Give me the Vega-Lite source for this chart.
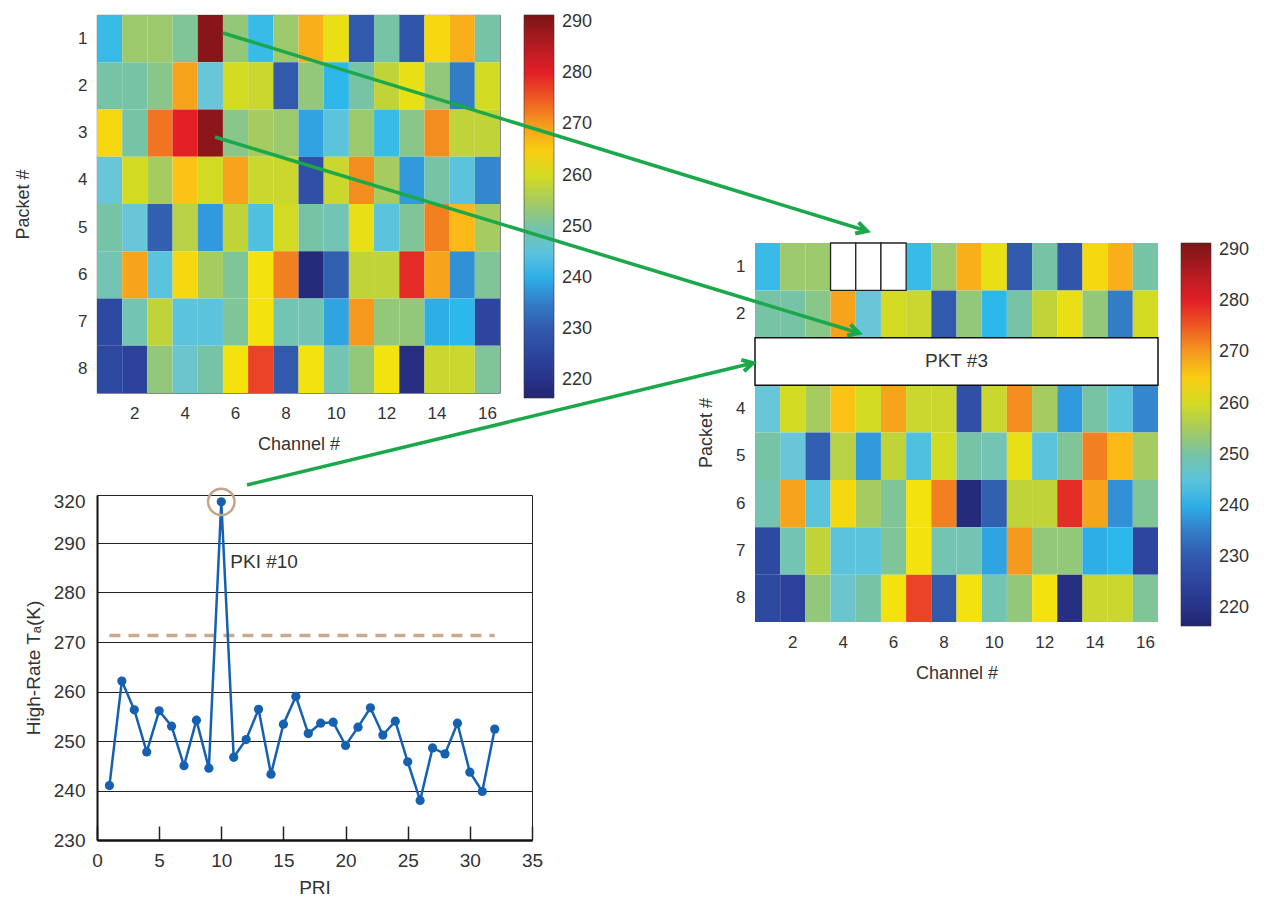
{
  "$schema": "https://vega.github.io/schema/vega-lite/v6.json",
  "background": "white",
  "padding": {"left": 14, "top": 14, "right": 5, "bottom": 5},
  "config": {
    "font": "Liberation Sans",
    "axis": {"labelColor": "#333", "titleColor": "#333", "titleFontWeight": "normal", "domainColor": "#333", "labelFont": "Liberation Sans", "titleFont": "Liberation Sans"},
    "legend": {"labelColor": "#333", "labelFont": "Liberation Sans"}
  },
  "datasets": {
    "cells": [
      {"packet":1,"ch":1,"T":242},{"packet":1,"ch":2,"T":254},{"packet":1,"ch":3,"T":254},{"packet":1,"ch":4,"T":251},{"packet":1,"ch":5,"T":290},{"packet":1,"ch":6,"T":253},{"packet":1,"ch":7,"T":242},{"packet":1,"ch":8,"T":254},{"packet":1,"ch":9,"T":268},{"packet":1,"ch":10,"T":262},{"packet":1,"ch":11,"T":230},{"packet":1,"ch":12,"T":250},{"packet":1,"ch":13,"T":229},{"packet":1,"ch":14,"T":264},{"packet":1,"ch":15,"T":268},{"packet":1,"ch":16,"T":250},
      {"packet":2,"ch":1,"T":250},{"packet":2,"ch":2,"T":250},{"packet":2,"ch":3,"T":252},{"packet":2,"ch":4,"T":269},{"packet":2,"ch":5,"T":246},{"packet":2,"ch":6,"T":260},{"packet":2,"ch":7,"T":259},{"packet":2,"ch":8,"T":230},{"packet":2,"ch":9,"T":253},{"packet":2,"ch":10,"T":241},{"packet":2,"ch":11,"T":250},{"packet":2,"ch":12,"T":258},{"packet":2,"ch":13,"T":262},{"packet":2,"ch":14,"T":253},{"packet":2,"ch":15,"T":235},{"packet":2,"ch":16,"T":260},
      {"packet":3,"ch":1,"T":264},{"packet":3,"ch":2,"T":250},{"packet":3,"ch":3,"T":273},{"packet":3,"ch":4,"T":280},{"packet":3,"ch":5,"T":289.5},{"packet":3,"ch":6,"T":252},{"packet":3,"ch":7,"T":255},{"packet":3,"ch":8,"T":254},{"packet":3,"ch":9,"T":239},{"packet":3,"ch":10,"T":245},{"packet":3,"ch":11,"T":254},{"packet":3,"ch":12,"T":242},{"packet":3,"ch":13,"T":252},{"packet":3,"ch":14,"T":271},{"packet":3,"ch":15,"T":258},{"packet":3,"ch":16,"T":258},
      {"packet":4,"ch":1,"T":246},{"packet":4,"ch":2,"T":260},{"packet":4,"ch":3,"T":255},{"packet":4,"ch":4,"T":266},{"packet":4,"ch":5,"T":260},{"packet":4,"ch":6,"T":269},{"packet":4,"ch":7,"T":259},{"packet":4,"ch":8,"T":259},{"packet":4,"ch":9,"T":228},{"packet":4,"ch":10,"T":259},{"packet":4,"ch":11,"T":271},{"packet":4,"ch":12,"T":255},{"packet":4,"ch":13,"T":238},{"packet":4,"ch":14,"T":250},{"packet":4,"ch":15,"T":245},{"packet":4,"ch":16,"T":236},
      {"packet":5,"ch":1,"T":250},{"packet":5,"ch":2,"T":246},{"packet":5,"ch":3,"T":231},{"packet":5,"ch":4,"T":257},{"packet":5,"ch":5,"T":238},{"packet":5,"ch":6,"T":258},{"packet":5,"ch":7,"T":244},{"packet":5,"ch":8,"T":260},{"packet":5,"ch":9,"T":250},{"packet":5,"ch":10,"T":249},{"packet":5,"ch":11,"T":262},{"packet":5,"ch":12,"T":245},{"packet":5,"ch":13,"T":251},{"packet":5,"ch":14,"T":272},{"packet":5,"ch":15,"T":267},{"packet":5,"ch":16,"T":255},
      {"packet":6,"ch":1,"T":249},{"packet":6,"ch":2,"T":269},{"packet":6,"ch":3,"T":245},{"packet":6,"ch":4,"T":264},{"packet":6,"ch":5,"T":255},{"packet":6,"ch":6,"T":251},{"packet":6,"ch":7,"T":263},{"packet":6,"ch":8,"T":272},{"packet":6,"ch":9,"T":218},{"packet":6,"ch":10,"T":231},{"packet":6,"ch":11,"T":258},{"packet":6,"ch":12,"T":258},{"packet":6,"ch":13,"T":279},{"packet":6,"ch":14,"T":269},{"packet":6,"ch":15,"T":237},{"packet":6,"ch":16,"T":251},
      {"packet":7,"ch":1,"T":226},{"packet":7,"ch":2,"T":249},{"packet":7,"ch":3,"T":258},{"packet":7,"ch":4,"T":245},{"packet":7,"ch":5,"T":245},{"packet":7,"ch":6,"T":251},{"packet":7,"ch":7,"T":263},{"packet":7,"ch":8,"T":249},{"packet":7,"ch":9,"T":249},{"packet":7,"ch":10,"T":239},{"packet":7,"ch":11,"T":270},{"packet":7,"ch":12,"T":253},{"packet":7,"ch":13,"T":253},{"packet":7,"ch":14,"T":240},{"packet":7,"ch":15,"T":241},{"packet":7,"ch":16,"T":225},
      {"packet":8,"ch":1,"T":226},{"packet":8,"ch":2,"T":224},{"packet":8,"ch":3,"T":253},{"packet":8,"ch":4,"T":247},{"packet":8,"ch":5,"T":250},{"packet":8,"ch":6,"T":263},{"packet":8,"ch":7,"T":277},{"packet":8,"ch":8,"T":230},{"packet":8,"ch":9,"T":263},{"packet":8,"ch":10,"T":249},{"packet":8,"ch":11,"T":253},{"packet":8,"ch":12,"T":263},{"packet":8,"ch":13,"T":219},{"packet":8,"ch":14,"T":259},{"packet":8,"ch":15,"T":259},{"packet":8,"ch":16,"T":251}
    ],
    "pri": [
      {"PRI":1,"TA":241.0},{"PRI":2,"TA":262.1},{"PRI":3,"TA":256.3},{"PRI":4,"TA":247.8},{"PRI":5,"TA":256.1},{"PRI":6,"TA":253.0},{"PRI":7,"TA":245.0},{"PRI":8,"TA":254.2},{"PRI":9,"TA":244.5},{"PRI":10,"TA":320},{"PRI":11,"TA":246.7},{"PRI":12,"TA":250.3},{"PRI":13,"TA":256.4},{"PRI":14,"TA":243.3},{"PRI":15,"TA":253.4},{"PRI":16,"TA":259.0},{"PRI":17,"TA":251.5},{"PRI":18,"TA":253.6},{"PRI":19,"TA":253.8},{"PRI":20,"TA":249.1},{"PRI":21,"TA":252.8},{"PRI":22,"TA":256.7},{"PRI":23,"TA":251.2},{"PRI":24,"TA":254.0},{"PRI":25,"TA":245.8},{"PRI":26,"TA":238.0},{"PRI":27,"TA":248.6},{"PRI":28,"TA":247.4},{"PRI":29,"TA":253.6},{"PRI":30,"TA":243.7},{"PRI":31,"TA":239.8},{"PRI":32,"TA":252.4}
    ],
    "threshold": [{"from":1,"to":32,"TA":271.3}],
    "arrows": [
      {"arrow":1,"ch_from":-20.62,"pkt_from":-3.933,"ch_to":4.947,"pkt_to":0.247},
      {"arrow":2,"ch_from":-20.94,"pkt_from":-1.7375,"ch_to":4.629,"pkt_to":2.40},
      {"arrow":3,"ch_from":-19.669,"pkt_from":5.608,"ch_to":0.42,"pkt_to":3.033}
    ],
    "boxes": [{"packet":1,"ch":4},{"packet":1,"ch":5},{"packet":1,"ch":6}],
    "pkt": [{"packet":3,"label":"PKT #3"}]
  },
  "columns": 2,
  "bounds": "flush",
  "spacing": {"row": 101, "column": 223},
  "resolve": {"scale": {"color": "independent"}},
  "concat": [
    {
      "width": 403,
      "height": 378,
      "view": {"stroke": "#444", "strokeWidth": 0.8},
      "data": {"name": "cells"},
      "mark": {"type": "rect"},
      "encoding": {
        "x": {"field": "ch", "type": "ordinal", "scale": {"domain": [1,2,3,4,5,6,7,8,9,10,11,12,13,14,15,16], "paddingInner": 0, "paddingOuter": 0},
              "axis": {"values": [2,4,6,8,10,12,14,16], "title": "Channel #", "labelFontSize": 17, "titleFontSize": 18, "labelPadding": 12, "ticks": false, "domain": false, "titlePadding": 14, "labelAngle": 0, "grid": false, "labelOverlap": false}},
        "y": {"field": "packet", "type": "ordinal", "scale": {"domain": [1,2,3,4,5,6,7,8], "paddingInner": 0, "paddingOuter": 0},
              "axis": {"values": [1,2,3,4,5,6,7,8], "title": "Packet #", "labelFontSize": 17, "titleFontSize": 18, "labelPadding": 10, "ticks": false, "domain": false, "titlePadding": 45, "grid": false, "labelOverlap": false}},
        "color": {"field": "T", "type": "quantitative",
                  "scale": {"type": "linear", "domain": [216.5, 222, 228, 233, 237, 241, 246, 250, 255, 260, 263, 266, 270, 275, 280, 285, 291.4],
                            "range": ["#222670", "#2A3A95", "#2F50A6", "#346AB8", "#3290D6", "#2DB8EC", "#68C6D8", "#76C3A6", "#A6CB5E", "#D2DA22", "#F4E20F", "#FBC315", "#F59A1E", "#EE5A24", "#E32026", "#B81C22", "#7B1416"], "interpolate": "rgb"},
                  "legend": {"title": null, "orient": "none", "legendX": 427, "legendY": 0, "gradientLength": 383, "gradientThickness": 30, "values": [220,230,240,250,260,270,280,290], "labelFontSize": 18, "labelOffset": 8, "gradientStrokeColor": "#333", "gradientStrokeWidth": 0.6, "direction": "vertical", "labelOverlap": false}}
      }
    },
    {
      "width": 403,
      "height": 379,
      "view": {"stroke": null},
      "resolve": {"scale": {"x": "independent", "y": "independent"}},
      "layer": [
        {
          "layer": [
            {
              "data": {"name": "cells"},
              "mark": {"type": "rect"},
              "encoding": {
                "x": {"field": "ch", "type": "ordinal", "scale": {"domain": [1,2,3,4,5,6,7,8,9,10,11,12,13,14,15,16], "paddingInner": 0, "paddingOuter": 0},
                      "axis": {"values": [2,4,6,8,10,12,14,16], "title": "Channel #", "offset": 228, "labelFontSize": 17, "titleFontSize": 18, "labelPadding": 12, "ticks": false, "domain": false, "titlePadding": 14, "labelAngle": 0, "grid": false, "labelOverlap": false}},
                "y": {"field": "packet", "type": "ordinal", "scale": {"domain": [1,2,3,4,5,6,7,8], "range": [228, 607], "paddingInner": 0, "paddingOuter": 0},
                      "axis": {"values": [1,2,4,5,6,7,8], "title": "Packet #", "labelFontSize": 17, "titleFontSize": 18, "labelPadding": 10, "ticks": false, "domain": false, "titlePadding": 20, "grid": false, "labelOverlap": false}},
                "color": {"field": "T", "type": "quantitative",
                          "scale": {"type": "linear", "domain": [216.5, 222, 228, 233, 237, 241, 246, 250, 255, 260, 263, 266, 270, 275, 280, 285, 291.4],
                                    "range": ["#222670", "#2A3A95", "#2F50A6", "#346AB8", "#3290D6", "#2DB8EC", "#68C6D8", "#76C3A6", "#A6CB5E", "#D2DA22", "#F4E20F", "#FBC315", "#F59A1E", "#EE5A24", "#E32026", "#B81C22", "#7B1416"], "interpolate": "rgb"},
                          "legend": {"title": null, "orient": "none", "legendX": 426, "legendY": 228, "gradientLength": 383, "gradientThickness": 30, "values": [220,230,240,250,260,270,280,290], "labelFontSize": 18, "labelOffset": 8, "gradientStrokeColor": "#333", "gradientStrokeWidth": 0.6, "direction": "vertical", "labelOverlap": false}}
              }
            },
            {
              "data": {"name": "boxes"},
              "mark": {"type": "rect", "fill": "white", "stroke": "#222", "strokeWidth": 1.3},
              "encoding": {
                "x": {"field": "ch", "type": "ordinal"},
                "y": {"field": "packet", "type": "ordinal"}
              }
            },
            {
              "data": {"name": "pkt"},
              "mark": {"type": "rect", "fill": "white", "stroke": "#111", "strokeWidth": 1.5},
              "encoding": {
                "y": {"field": "packet", "type": "ordinal"}
              }
            },
            {
              "data": {"name": "pkt"},
              "mark": {"type": "text", "fontSize": 19, "color": "#333", "align": "center", "baseline": "middle"},
              "encoding": {
                "y": {"field": "packet", "type": "ordinal"},
                "text": {"field": "label"}
              }
            }
          ]
        },
        {
          "data": {"name": "arrows"},
          "mark": {"type": "rule", "color": "#1AA84A", "strokeWidth": 3.5},
          "encoding": {
            "x": {"field": "ch_from", "type": "quantitative", "scale": {"domain": [0.5, 16.5], "nice": false, "zero": false}, "axis": null},
            "y": {"field": "pkt_from", "type": "quantitative", "scale": {"domain": [0.5, 8.5], "range": [228, 607], "nice": false, "zero": false}, "axis": null},
            "x2": {"field": "ch_to"},
            "y2": {"field": "pkt_to"}
          }
        },
        {
          "data": {"name": "arrows"},
          "transform": [{"filter": "datum.arrow <= 2"}],
          "mark": {"type": "point", "shape": "M-1,-0.55L0,0L-1,0.55", "filled": false, "stroke": "#1AA84A", "strokeWidth": 4, "size": 450, "angle": 17, "opacity": 1, "strokeJoin": "miter"},
          "encoding": {
            "x": {"field": "ch_to", "type": "quantitative", "scale": {"domain": [0.5, 16.5], "nice": false, "zero": false}, "axis": null},
            "y": {"field": "pkt_to", "type": "quantitative", "scale": {"domain": [0.5, 8.5], "range": [228, 607], "nice": false, "zero": false}, "axis": null}
          }
        },
        {
          "data": {"name": "arrows"},
          "transform": [{"filter": "datum.arrow == 3"}],
          "mark": {"type": "point", "shape": "M-1,-0.55L0,0L-1,0.55", "filled": false, "stroke": "#1AA84A", "strokeWidth": 4, "size": 450, "angle": -13.5, "opacity": 1, "strokeJoin": "miter"},
          "encoding": {
            "x": {"field": "ch_to", "type": "quantitative", "scale": {"domain": [0.5, 16.5], "nice": false, "zero": false}, "axis": null},
            "y": {"field": "pkt_to", "type": "quantitative", "scale": {"domain": [0.5, 8.5], "range": [228, 607], "nice": false, "zero": false}, "axis": null}
          }
        }
      ]
    },
    {
      "width": 435,
      "height": 345,
      "view": {"stroke": "#222", "strokeWidth": 1},
      "layer": [
        {
          "data": {"name": "threshold"},
          "mark": {"type": "rule", "color": "#C9AA8E", "strokeWidth": 3.5, "strokeDash": [11, 8]},
          "encoding": {
            "x": {"field": "from", "type": "quantitative", "scale": {"domain": [0, 35], "nice": false, "zero": false}},
            "x2": {"field": "to"},
            "y": {"field": "TA", "type": "quantitative", "scale": {"domain": [230, 290, 325], "range": [345, 48, 0], "nice": false, "zero": false}}
          }
        },
        {
          "data": {"name": "pri"},
          "mark": {"type": "line", "color": "#1560B0", "strokeWidth": 2.5, "point": {"filled": true, "size": 85, "color": "#1560B0"}},
          "encoding": {
            "x": {"field": "PRI", "type": "quantitative", "scale": {"domain": [0, 35], "nice": false, "zero": false},
                  "axis": {"values": [0,5,10,15,20,25,30,35], "title": "PRI", "labelFontSize": 19, "titleFontSize": 19, "labelPadding": 25, "ticks": true, "tickSize": -14, "tickColor": "#222", "tickWidth": 1.5, "domainWidth": 2.5, "domainColor": "#111", "titlePadding": 8, "grid": false, "labelFlush": false}},
            "y": {"field": "TA", "type": "quantitative", "scale": {"domain": [230, 290, 325], "range": [345, 48, 0], "nice": false, "zero": false},
                  "axis": {"values": [230,240,250,260,270,280,290,320], "title": "High-Rate Tₐ(K)", "labelFontSize": 19, "titleFontSize": 19, "labelPadding": 12, "ticks": false, "domainWidth": 2, "domainColor": "#111", "titlePadding": 10, "grid": true, "gridColor": {"condition": {"test": "datum.value >= 300 || datum.value <= 230", "value": "transparent"}, "value": "#222"}, "gridWidth": 1, "labelFlush": false}}
          }
        },
        {
          "data": {"name": "pri"},
          "transform": [{"filter": "datum.PRI == 10"}],
          "mark": {"type": "point", "filled": false, "stroke": "#C4A388", "strokeWidth": 2.5, "size": 700, "opacity": 1},
          "encoding": {
            "x": {"field": "PRI", "type": "quantitative"},
            "y": {"field": "TA", "type": "quantitative"}
          }
        },
        {
          "data": {"name": "pri"},
          "transform": [{"filter": "datum.PRI == 10"}],
          "mark": {"type": "text", "text": "PKI #10", "align": "left", "baseline": "middle", "dx": 9, "dy": 60, "fontSize": 19, "color": "#333"},
          "encoding": {
            "x": {"field": "PRI", "type": "quantitative"},
            "y": {"field": "TA", "type": "quantitative"}
          }
        }
      ]
    }
  ]
}
